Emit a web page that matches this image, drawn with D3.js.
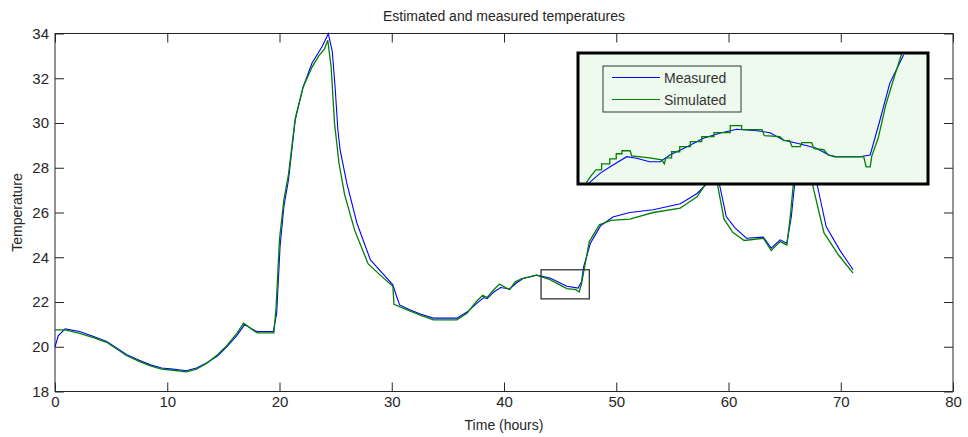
<!DOCTYPE html>
<html>
<head>
<meta charset="utf-8">
<script src="https://cdn.jsdelivr.net/npm/d3@7"></script>
<style>
  body { margin: 0; background: #fff; }
  text { font-family: "Liberation Sans", Arial, sans-serif; fill: #262626; }
</style>
</head>
<body>
<div id="chart"></div>
<script>
// measured temperature (blue)
var measTime = [0, 0.3, 0.9, 2.2, 3.5, 4.6, 5.5, 6.4, 7.5, 8.5, 9.5, 10.5, 11.7, 12.6, 13.5, 14.5, 15.3, 16.2, 16.9, 17.5, 18.0, 19.45, 19.75, 20.05, 20.4, 20.8, 21.4, 22.1, 22.9, 23.8, 24.35, 24.7, 24.95, 25.2, 25.4, 26.0, 26.9, 28.1, 29.3, 30.1, 30.4, 30.7, 31.6, 32.6, 33.7, 35.8, 36.7, 37.6, 38.2, 38.5, 39.1, 39.7, 40.5, 41.1, 41.7, 42.9, 44.1, 45.6, 46.6, 46.9, 47.1, 47.7, 48.6, 49.7, 51.2, 53.3, 55.7, 56.3, 57.2, 58.1, 58.7, 59.2, 59.8, 60.6, 61.6, 63.1, 63.8, 64.6, 65.2, 65.6, 65.9, 66.4, 67.0, 67.9, 68.7, 69.9, 71.1];
var measTemp = [20.0, 20.5, 20.8, 20.68, 20.45, 20.23, 19.95, 19.64, 19.4, 19.19, 19.05, 19.0, 18.93, 19.05, 19.27, 19.6, 20.0, 20.5, 21.0, 20.8, 20.68, 20.68, 21.5, 24.48, 26.3, 27.46, 30.14, 31.6, 32.68, 33.42, 33.99, 33.2, 31.63, 29.7, 28.8, 27.3, 25.52, 23.88, 23.21, 22.77, 22.3, 21.87, 21.65, 21.45, 21.28, 21.28, 21.55, 21.95, 22.2, 22.15, 22.45, 22.65, 22.58, 22.85, 23.05, 23.2, 23.07, 22.7, 22.62, 22.9, 23.58, 24.63, 25.4, 25.8, 26.0, 26.12, 26.39, 26.57, 26.85, 27.3, 28.0, 27.24, 25.82, 25.3, 24.85, 24.9, 24.41, 24.78, 24.63, 25.82, 27.31, 29.5, 29.0, 27.24, 25.37, 24.33, 23.44];

// simulated temperature (green)
var simTime = [0, 0.9, 2.2, 3.5, 4.6, 5.5, 6.4, 7.5, 8.5, 9.5, 10.5, 11.7, 12.6, 13.5, 14.5, 15.3, 16.2, 16.8, 17.5, 18.0, 19.5, 19.7, 20.0, 20.4, 20.8, 21.4, 22.1, 22.9, 23.5, 24.0, 24.3, 24.6, 24.9, 25.3, 25.8, 26.7, 27.9, 29.2, 30.1, 30.2, 31.6, 32.6, 33.7, 35.8, 36.7, 37.5, 38.1, 38.5, 39.0, 39.6, 40.5, 41.0, 41.6, 42.9, 44.1, 45.6, 46.4, 46.7, 46.9, 47.6, 48.5, 49.5, 51.2, 53.3, 55.7, 56.3, 57.2, 58.0, 58.6, 59.0, 59.6, 60.4, 61.4, 63.1, 63.8, 64.6, 65.2, 65.5, 65.8, 66.3, 66.8, 67.6, 68.5, 69.8, 71.1];
var simTemp = [20.75, 20.75, 20.6, 20.4, 20.2, 19.9, 19.6, 19.35, 19.15, 19.0, 18.95, 18.88, 19.0, 19.25, 19.65, 20.05, 20.6, 21.05, 20.8, 20.62, 20.62, 21.8, 24.8, 26.6, 27.7, 30.2, 31.6, 32.5, 33.0, 33.3, 33.7, 32.5, 30.0, 28.2, 26.8, 25.2, 23.7, 23.1, 22.7, 21.9, 21.6, 21.4, 21.2, 21.2, 21.5, 22.0, 22.3, 22.2, 22.5, 22.8, 22.55, 22.9, 23.05, 23.2, 23.0, 22.6, 22.55, 22.45, 22.8, 24.7, 25.45, 25.65, 25.7, 26.0, 26.2, 26.4, 26.7, 27.3, 28.0, 27.3, 25.7, 25.1, 24.75, 24.85, 24.3, 24.7, 24.55, 25.8, 27.4, 29.5, 29.0, 27.0, 25.1, 24.1, 23.29];

// zoomed view shown in the inset
var zoomX = [43.3, 47.6];
var zoomY = [22.14, 23.44];
var insetMeasTime = [43.43, 43.57, 43.73, 43.90, 44.02, 44.18, 44.31, 44.43, 44.64, 44.84, 45.04, 45.25, 45.50, 45.66, 45.82, 46.03, 46.23, 46.38, 46.48, 46.76, 46.89, 47.01, 47.13, 47.30];
var insetMeasTemp = [22.147, 22.246, 22.329, 22.411, 22.395, 22.361, 22.361, 22.428, 22.510, 22.594, 22.643, 22.683, 22.669, 22.649, 22.577, 22.537, 22.494, 22.428, 22.411, 22.411, 22.428, 22.775, 23.139, 23.42];
var insetSimTime = [43.40, 43.46, 43.52, 43.59, 43.59, 43.69, 43.69, 43.77, 43.77, 43.84, 43.84, 43.94, 43.96, 44.18, 44.33, 44.36, 44.38, 44.45, 44.45, 44.55, 44.55, 44.68, 44.68, 44.82, 44.82, 44.97, 44.97, 45.17, 45.17, 45.31, 45.31, 45.56, 45.59, 45.78, 45.83, 45.90, 45.93, 46.03, 46.05, 46.17, 46.20, 46.32, 46.37, 46.45, 46.81, 46.84, 46.89, 46.91, 46.99, 47.08, 47.18, 47.28, 47.33];
var insetSimTemp = [22.15, 22.22, 22.28, 22.28, 22.34, 22.34, 22.39, 22.39, 22.44, 22.44, 22.47, 22.47, 22.42, 22.40, 22.38, 22.34, 22.40, 22.40, 22.46, 22.46, 22.51, 22.51, 22.56, 22.56, 22.61, 22.61, 22.65, 22.65, 22.72, 22.72, 22.68, 22.68, 22.62, 22.61, 22.57, 22.57, 22.51, 22.51, 22.55, 22.55, 22.49, 22.48, 22.43, 22.41, 22.41, 22.31, 22.31, 22.42, 22.60, 22.92, 23.19, 23.44, 23.52];

var xTicks = [0, 10, 20, 30, 40, 50, 60, 70, 80];
var yTicks = [18, 20, 22, 24, 26, 28, 30, 32, 34];
var legendNames = ["Measured", "Simulated"];

var w = 968, h = 437;
var mLeft = 55, mRight = 953, mTop = 33.5, mBottom = 391.5;
var blue = "#0000ff", green = "#008000";
var legendColors = [blue, green];

var svg = d3.select("#chart").append("svg")
  .attr("width", w).attr("height", h);

var x = d3.scaleLinear().domain([0, 80]).range([mLeft, mRight]);
var y = d3.scaleLinear().domain([18, 34]).range([mBottom, mTop]);

// title and axis labels
svg.append("text").attr("x", (mLeft + mRight) / 2).attr("y", 21)
  .attr("text-anchor", "middle").style("font-size", "14px")
  .text("Estimated and measured temperatures");
svg.append("text").attr("x", (mLeft + mRight) / 2).attr("y", 430)
  .attr("text-anchor", "middle").style("font-size", "14px")
  .text("Time (hours)");
svg.append("text").attr("transform", "translate(22," + (mTop + mBottom) / 2 + ") rotate(-90)")
  .attr("text-anchor", "middle").style("font-size", "14px")
  .text("Temperature");

// axes with inward ticks (matlab style), mirrored on top/right
var tl = 9;
var gx = svg.append("g").attr("transform", "translate(0," + mBottom + ")")
  .call(d3.axisBottom(x).tickValues(xTicks).tickSize(-tl).tickPadding(5));
var gxt = svg.append("g").attr("transform", "translate(0," + mTop + ")")
  .call(d3.axisTop(x).tickValues(xTicks).tickSize(-tl).tickFormat(""));
var gy = svg.append("g").attr("transform", "translate(" + mLeft + ",0)")
  .call(d3.axisLeft(y).tickValues(yTicks).tickSize(-tl).tickPadding(6));
var gyr = svg.append("g").attr("transform", "translate(" + mRight + ",0)")
  .call(d3.axisRight(y).tickValues(yTicks).tickSize(-tl).tickFormat(""));
[gx, gxt, gy, gyr].forEach(function(g) {
  g.select(".domain").remove();
  g.selectAll("line").attr("stroke", "#262626");
  g.selectAll("text").style("font-size", "15px").attr("fill", "#262626");
});
svg.append("rect").attr("x", mLeft).attr("y", mTop)
  .attr("width", mRight - mLeft).attr("height", mBottom - mTop)
  .attr("fill", "none").attr("stroke", "#262626");

// main lines
var mainLine = d3.line().x(function(d) { return x(d[0]); }).y(function(d) { return y(d[1]); });
svg.append("path").datum(d3.zip(measTime, measTemp))
  .attr("d", mainLine).attr("fill", "none").attr("stroke", blue).attr("stroke-width", 1.1);
svg.append("path").datum(d3.zip(simTime, simTemp))
  .attr("d", mainLine).attr("fill", "none").attr("stroke", green).attr("stroke-width", 1.3);

// little box marking the zoomed region
svg.append("rect").attr("x", x(zoomX[0])).attr("y", y(zoomY[1]))
  .attr("width", x(zoomX[1]) - x(zoomX[0])).attr("height", y(zoomY[0]) - y(zoomY[1]))
  .attr("fill", "none").attr("stroke", "#333").attr("stroke-width", 1.3);

// inset
var ix0 = 578, ix1 = 928, iy0 = 53, iy1 = 184;
var ix = d3.scaleLinear().domain(zoomX).range([ix0, ix1]);
var iy = d3.scaleLinear().domain(zoomY).range([iy1, iy0]);
svg.append("clipPath").attr("id", "insetClip")
  .append("rect").attr("x", ix0).attr("y", iy0).attr("width", ix1 - ix0).attr("height", iy1 - iy0);
svg.append("rect").attr("x", ix0).attr("y", iy0).attr("width", ix1 - ix0).attr("height", iy1 - iy0)
  .attr("fill", "#effaef");
var insetLine = d3.line().x(function(d) { return ix(d[0]); }).y(function(d) { return iy(d[1]); });
var ig = svg.append("g").attr("clip-path", "url(#insetClip)");
ig.append("path").datum(d3.zip(insetMeasTime, insetMeasTemp))
  .attr("d", insetLine).attr("fill", "none").attr("stroke", blue).attr("stroke-width", 1.1);
ig.append("path").datum(d3.zip(insetSimTime, insetSimTemp))
  .attr("d", insetLine).attr("fill", "none").attr("stroke", green).attr("stroke-width", 1.3);
svg.append("rect").attr("x", ix0).attr("y", iy0).attr("width", ix1 - ix0).attr("height", iy1 - iy0)
  .attr("fill", "none").attr("stroke", "#000").attr("stroke-width", 3);

// legend
var lg = svg.append("g").attr("transform", "translate(603,66)");
lg.append("rect").attr("width", 138).attr("height", 46)
  .attr("fill", "#effaef").attr("stroke", "#333");
legendNames.forEach(function(name, i) {
  lg.append("path")
    .attr("d", "M9," + (11.5 + i * 22) + "H57")
    .attr("fill", "none")
    .style("stroke", legendColors[i])
    .style("stroke-width", "1.2px");
  lg.append("text")
    .attr("x", 61).attr("y", 16.5 + i * 22)
    .style("font-size", "14px").style("fill", "#333")
    .text(name);
});
</script>
</body>
</html>
